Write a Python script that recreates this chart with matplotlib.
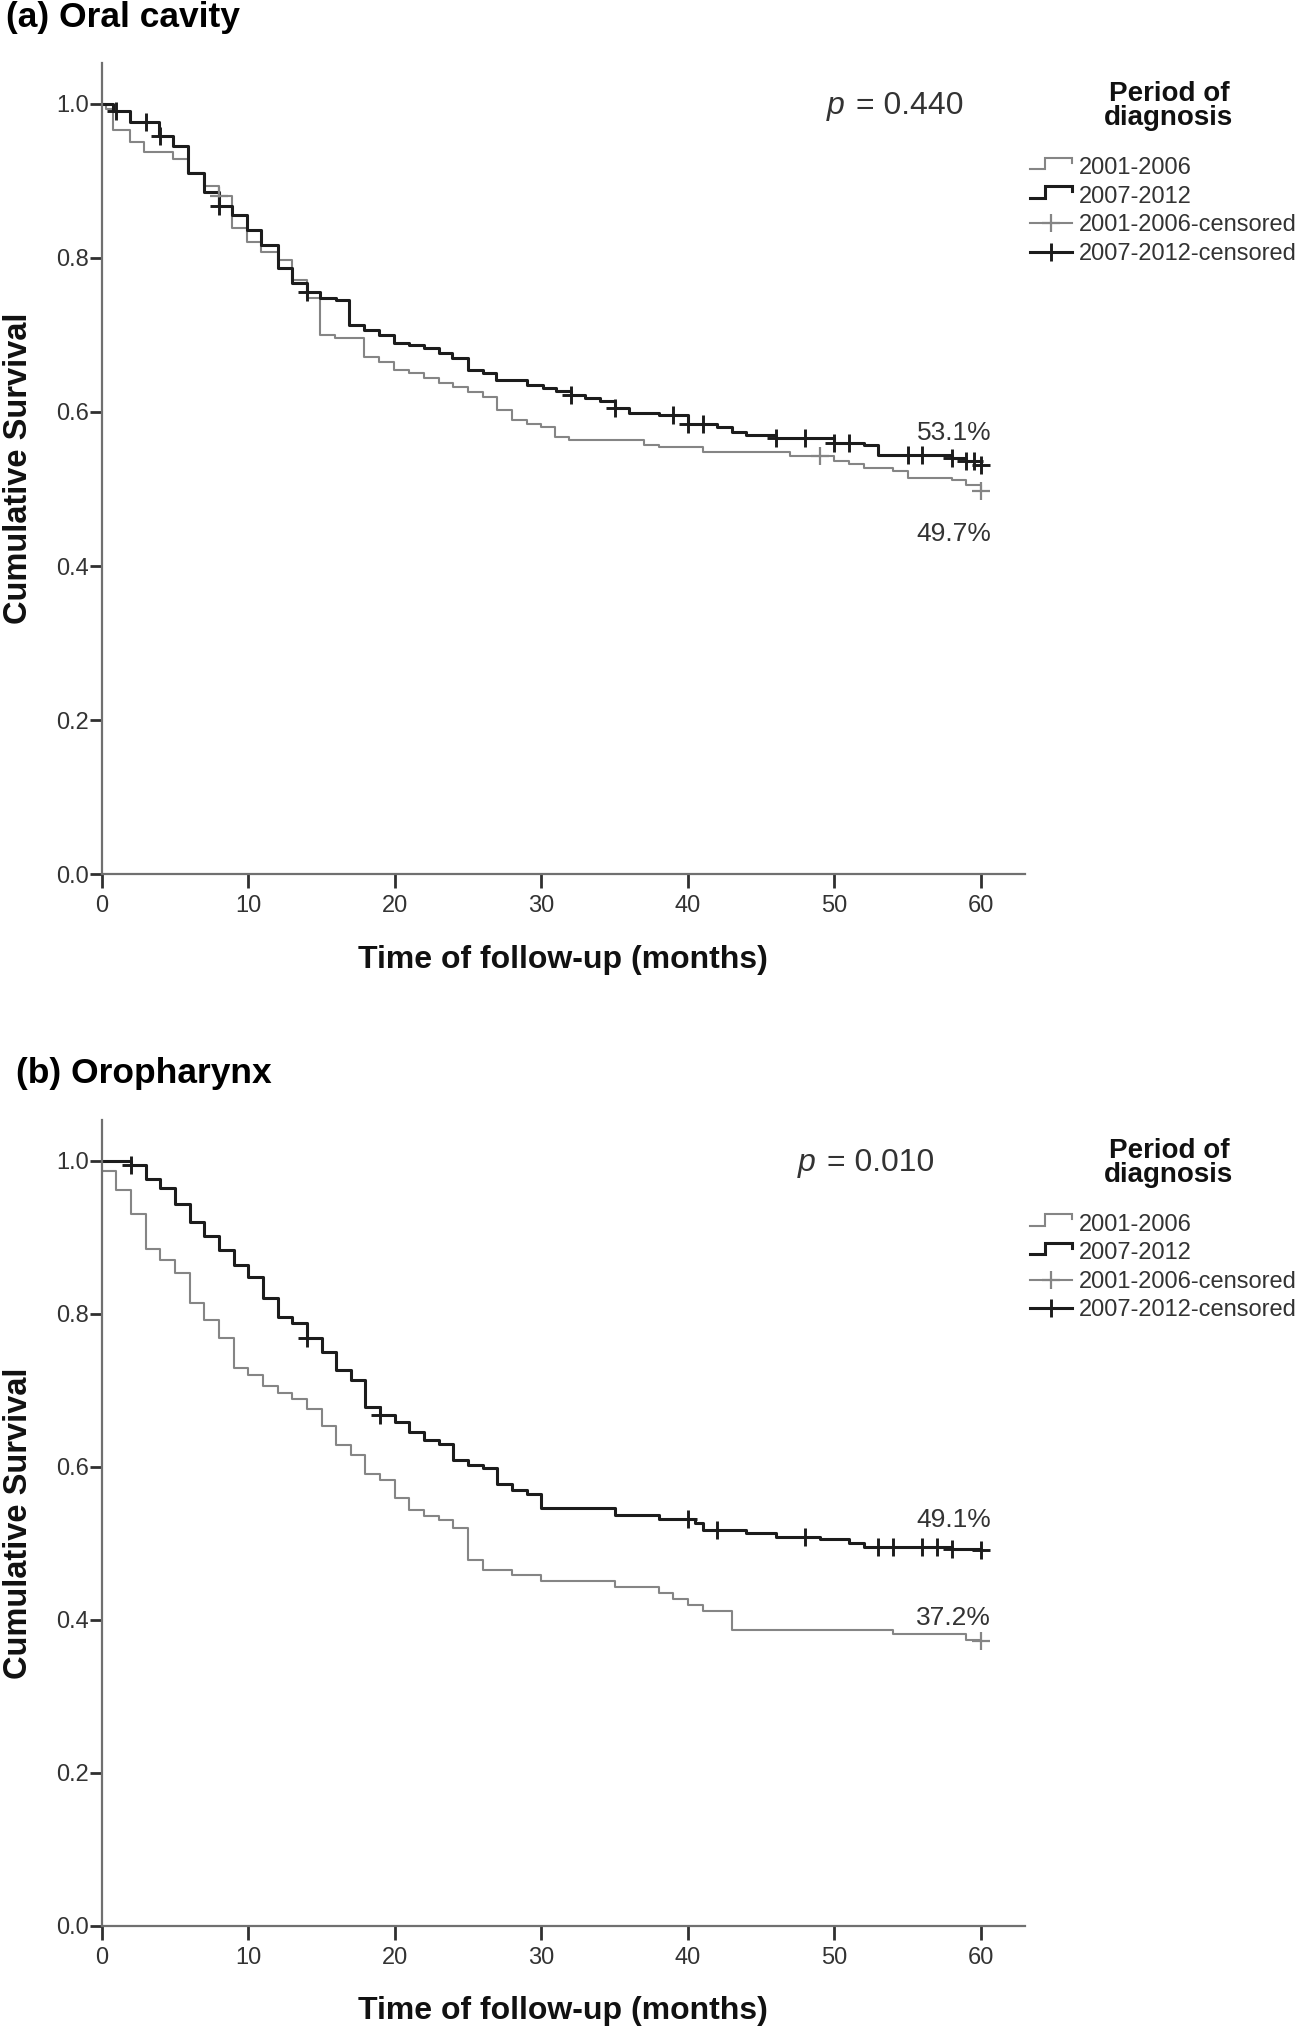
import numpy as np
import matplotlib
matplotlib.use('Agg')
import matplotlib.pyplot as plt
from matplotlib.lines import Line2D
from matplotlib.legend_handler import HandlerBase

# ---- data ----
# (a) oral cavity, 2001-2006
a_early_t = [0, 0.3, 0.8, 1.9, 2.9, 4.9, 5.9, 6.95, 8.0, 8.9, 9.9, 10.9, 12.0, 13.0, 14.0, 14.9,
             15.9, 17.9, 18.9, 19.95, 21.0, 22.0, 23.0, 24.0, 25.0, 26.0, 27.0, 28.0, 29.0, 30.0,
             30.9, 31.9, 37.0, 38.0, 41.0, 47.0, 50.0, 51.0, 52.0, 54.0, 55.0, 58.0, 59.0, 60.0]
a_early_s = [1.0, 0.994, 0.966, 0.951, 0.938, 0.929, 0.910, 0.893, 0.880, 0.839, 0.821, 0.808,
             0.797, 0.771, 0.748, 0.700, 0.696, 0.672, 0.665, 0.655, 0.650, 0.644, 0.637, 0.633,
             0.626, 0.620, 0.603, 0.590, 0.585, 0.580, 0.568, 0.564, 0.557, 0.554, 0.548, 0.543,
             0.536, 0.532, 0.527, 0.523, 0.514, 0.512, 0.505, 0.497]
a_early_cens = [8, 49, 60]
# (a) oral cavity, 2007-2012
a_late_t = [0, 0.8, 1.9, 3.9, 4.9, 5.9, 6.95, 8.0, 8.9, 9.9, 10.9, 12.0, 13.0, 14.0, 14.9, 16.0,
            16.9, 17.9, 18.9, 19.95, 21.0, 22.0, 23.0, 23.9, 25.0, 26.0, 26.9, 29.0, 30.1, 31.0,
            32.0, 33.0, 34.0, 35.0, 36.0, 38.0, 40.0, 42.0, 43.0, 44.0, 46.0, 50.0, 52.0, 53.0,
            58.0, 59.0, 60.0]
a_late_s = [1.0, 0.991, 0.977, 0.958, 0.945, 0.910, 0.886, 0.867, 0.856, 0.836, 0.817, 0.787,
            0.767, 0.756, 0.748, 0.745, 0.713, 0.707, 0.700, 0.690, 0.687, 0.683, 0.676, 0.670,
            0.655, 0.650, 0.641, 0.635, 0.631, 0.627, 0.622, 0.618, 0.614, 0.605, 0.599, 0.596,
            0.585, 0.580, 0.574, 0.570, 0.566, 0.560, 0.557, 0.544, 0.540, 0.536, 0.531]
a_late_cens = [1, 3, 4, 8, 14, 32, 35, 39, 40, 41, 46, 48, 50, 51, 55, 56, 58, 59, 59.5, 60]

# (b) oropharynx, 2001-2006
b_early_t = [0, 1, 2, 3, 4, 5, 6, 7, 8, 9, 10, 11, 12, 13, 14, 15, 16, 17, 18, 19, 20, 21, 22,
             23, 24, 25, 26, 28, 30, 35, 38, 39, 40, 41, 43, 54, 59, 60]
b_early_s = [0.986, 0.962, 0.931, 0.885, 0.870, 0.853, 0.814, 0.792, 0.768, 0.729, 0.720, 0.705,
             0.696, 0.689, 0.676, 0.653, 0.628, 0.615, 0.591, 0.583, 0.559, 0.543, 0.535, 0.530,
             0.520, 0.478, 0.465, 0.458, 0.450, 0.443, 0.435, 0.427, 0.419, 0.411, 0.387, 0.381,
             0.374, 0.372]
b_early_cens = [60]
# (b) oropharynx, 2007-2012
b_late_t = [0, 2, 3, 4, 5, 6, 7, 8, 9, 10, 11, 12, 13, 14, 15, 16, 17, 18, 19, 20, 21, 22, 23,
            24, 25, 26, 27, 28, 29, 30, 35, 38, 40.5, 41, 44, 46, 49, 51, 52, 58, 60]
b_late_s = [1.0, 0.994, 0.976, 0.965, 0.944, 0.920, 0.901, 0.883, 0.864, 0.848, 0.820, 0.796,
            0.788, 0.768, 0.750, 0.727, 0.713, 0.678, 0.668, 0.659, 0.646, 0.635, 0.630, 0.609,
            0.602, 0.598, 0.578, 0.570, 0.565, 0.546, 0.537, 0.532, 0.527, 0.517, 0.513, 0.508,
            0.505, 0.500, 0.495, 0.492, 0.491]
b_late_cens = [2, 14, 19, 40, 42, 48, 53, 54, 56, 57, 58, 60]

panel_titles = ['(a) Oral cavity', '(b) Oropharynx']
p_values = ['0.440', '0.010']
group_labels = ['2001-2006', '2007-2012', '2001-2006-censored', '2007-2012-censored']
x_ticks = [0, 10, 20, 30, 40, 50, 60]
y_ticks = [0.0, 0.2, 0.4, 0.6, 0.8, 1.0]

plt.rcParams['font.family'] = ['Liberation Sans', 'DejaVu Sans']

GRAY = '#858585'
DARK = '#1c1c1c'
TXT = '#333333'


class StepHandler(HandlerBase):
    # little step glyph like the SPSS legend
    def create_artists(self, legend, orig_handle, xdescent, ydescent, width, height, fontsize, trans):
        x = np.array([0, 0.36, 0.36, 1.0, 1.0]) * width - xdescent
        y = np.array([0.3, 0.3, 1.0, 1.0, 0.7]) * height - ydescent
        ln = Line2D(x, y, color=orig_handle.get_color(), lw=orig_handle.get_linewidth(),
                    transform=trans, solid_joinstyle='miter')
        return [ln]


def surv_at(t, s, c):
    idx = np.searchsorted(np.asarray(t), np.asarray(c), side='right') - 1
    return np.asarray(s)[idx]


def draw_panel(ax, early_t, early_s, early_c, late_t, late_s, late_c, pval, p_x, early_lab_y, late_lab_y):
    l1, = ax.step(early_t, early_s, where='post', color=GRAY, lw=1.5)
    l2, = ax.step(late_t, late_s, where='post', color=DARK, lw=2.2)
    ax.plot(early_c, surv_at(early_t, early_s, early_c), ls='none', marker='+', ms=13, mew=1.6, color=GRAY)
    ax.plot(late_c, surv_at(late_t, late_s, late_c), ls='none', marker='+', ms=13, mew=2.1, color=DARK)

    ax.set_xlim(0, 63)
    ax.set_ylim(0, 1.053)
    ax.set_xticks(x_ticks)
    ax.set_yticks(y_ticks)
    ax.set_yticklabels(['%.1f' % v for v in y_ticks])
    for side in ['top', 'right']:
        ax.spines[side].set_visible(False)
    for side in ['left', 'bottom']:
        ax.spines[side].set_color('#707070')
        ax.spines[side].set_linewidth(1.6)
    ax.tick_params(axis='x', length=10, width=2.0, color='#303030', pad=5, labelsize=17, labelcolor=TXT)
    ax.tick_params(axis='y', length=9, width=2.0, color='#303030', pad=0, labelsize=17, labelcolor=TXT)

    ax.set_xlabel('Time of follow-up (months)', fontsize=23, fontweight='bold', color='#111111')
    ax.set_ylabel('Cumulative Survival', fontsize=23.5, fontweight='bold', color='#111111')
    ax.xaxis.set_label_coords(0.5, -0.087)
    ax.yaxis.set_label_coords(-0.073, 0.5)

    ax.text(p_x, 0.997, 'p', style='italic', fontsize=23, color=TXT, ha='left', va='center')
    ax.text(p_x + 2.0, 0.997, '= ' + pval, fontsize=23, color=TXT, ha='left', va='center')

    ax.text(60.7, late_lab_y, '%.1f%%' % (late_s[-1] * 100), fontsize=19, color=TXT, ha='right', va='center')
    ax.text(60.7, early_lab_y, '%.1f%%' % (early_s[-1] * 100), fontsize=19, color=TXT, ha='right', va='center')

    ax.text(1.156, 0.947, 'Period of\ndiagnosis', transform=ax.transAxes, fontsize=20, fontweight='bold',
            color='#111111', ha='center', va='center', linespacing=0.9)
    h3 = Line2D([], [], color=GRAY, lw=1.5, marker='+', ms=13, mew=1.6)
    h4 = Line2D([], [], color=DARK, lw=2.2, marker='+', ms=13, mew=2.1)
    ax.legend([l1, l2, h3, h4], group_labels, loc='upper left', bbox_to_anchor=(1.006, 0.884),
              frameon=False, borderpad=0, borderaxespad=0, handlelength=1.75, handletextpad=0.3,
              labelspacing=0.28, numpoints=1, fontsize=17, labelcolor=TXT,
              handler_map={l1: StepHandler(), l2: StepHandler()})


fig = plt.figure(figsize=(13.12, 20.29), dpi=100)
ax_a = fig.add_axes([0.0775, 0.5692, 0.7037, 0.3997])
ax_b = fig.add_axes([0.0775, 0.0509, 0.7037, 0.3970])

draw_panel(ax_a, a_early_t, a_early_s, a_early_cens, a_late_t, a_late_s, a_late_cens,
           p_values[0], 49.45, 0.441, 0.573)
draw_panel(ax_b, b_early_t, b_early_s, b_early_cens, b_late_t, b_late_s, b_late_cens,
           p_values[1], 47.5, 0.402, 0.530)

fig.text(6 / 1312, 1 - 18 / 2029, panel_titles[0], fontsize=25.5, fontweight='bold', ha='left', va='center')
fig.text(16 / 1312, 1 - 1073 / 2029, panel_titles[1], fontsize=25.5, fontweight='bold', ha='left', va='center')

fig.savefig('out.png', dpi=100, facecolor='white')
